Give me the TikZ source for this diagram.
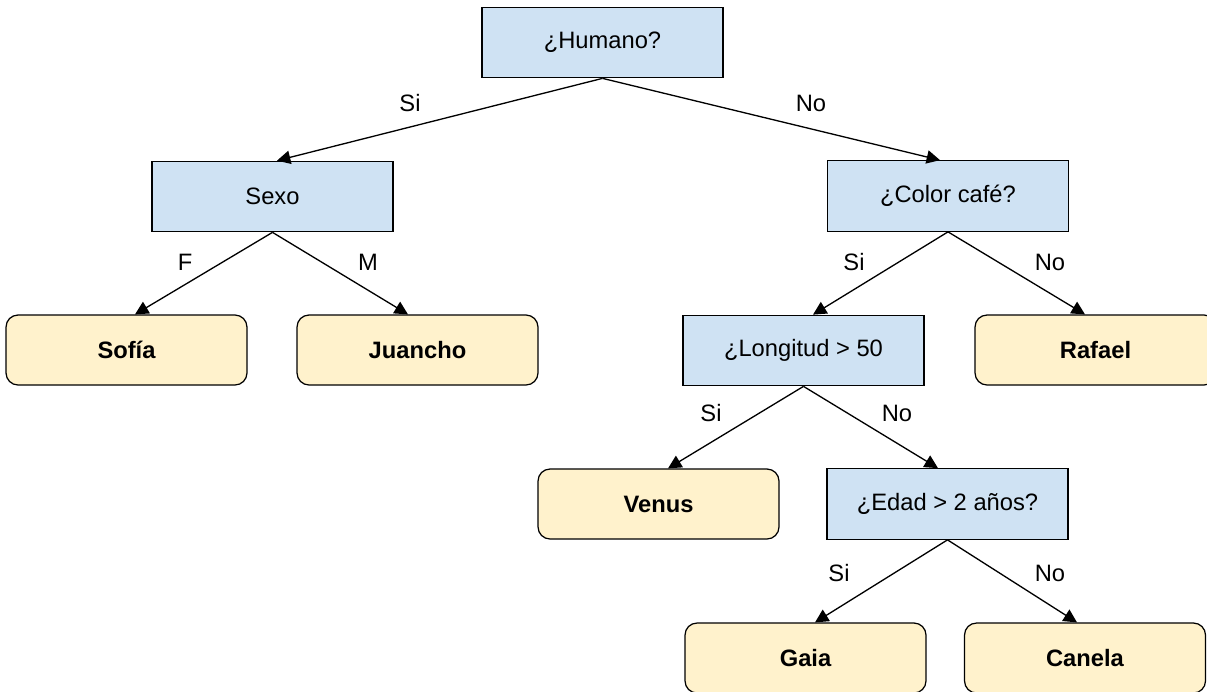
\documentclass[tikz,border=0pt]{standalone}
\usepackage{fontspec}
\setmainfont{Liberation Sans}
\usetikzlibrary{positioning,arrows.meta}
\definecolor{qblue}{HTML}{CFE2F3}
\definecolor{leafyellow}{HTML}{FFF2CC}
\tikzset{
 question/.style = {draw, fill=qblue, line width=0.7pt, minimum width=4.82cm, minimum height=1.41cm, inner sep=0pt, font=\fontsize{13.5}{15}\selectfont},
 leaf/.style = {draw, fill=leafyellow, line width=0.7pt, rounded corners=0.24cm, minimum width=4.82cm, minimum height=1.4cm, inner sep=0pt, font=\fontsize{13.5}{15}\selectfont\bfseries},
 lbl/.style = {font=\fontsize{13.5}{15}\selectfont, inner sep=0pt},
 branch/.style = {-{Triangle[length=7.6pt,width=7.6pt]}, line width=0.75pt},
}
\begin{document}
\begin{tikzpicture}[x=0.02cm, y=-0.02cm, auto]
 \useasboundingbox (0,0) rectangle (1207,691);
 % questions
 \node[question] (hum) at (602.5,42.5) {¿Humano?};
 \node[question] (sexo) at (272.5,196.5) {Sexo};
 \node[question] (color) at (948,196) {¿Color café?};
 \node[question] (longitud) at (803.5,350.5) {¿Longitud > 50};
 \node[question] (edad) at (947.5,504) {¿Edad > 2 años?};
 % answers
 \node[leaf] (sofia) at (126.5,350) {Sofía};
 \node[leaf] (juancho) at (417.5,350) {Juancho};
 \node[leaf] (rafael) at (1095.5,350) {Rafael};
 \node[leaf] (venus) at (658.5,504) {Venus};
 \node[leaf] (gaia) at (805.5,658) {Gaia};
 \node[leaf] (canela) at (1085,658) {Canela};
 % branch labels
 \node[lbl] (siHum) at (410,103) {Si};
 \node[lbl] (noHum) at (811,103) {No};
 \node[lbl] (fSexo) at (185,262) {F};
 \node[lbl] (mSexo) at (368,262) {M};
 \node[lbl] (siColor) at (854,262) {Si};
 \node[lbl] (noColor) at (1050,262) {No};
 \node[lbl] (siLong) at (711,413) {Si};
 \node[lbl] (noLong) at (897,413) {No};
 \node[lbl] (siEdad) at (839,573) {Si};
 \node[lbl] (noEdad) at (1050,573) {No};
 % branches
 \draw[branch] (hum.south) -- ([xshift=0.09cm]sexo.north);
 \draw[branch] (hum.south) -- ([xshift=-0.16cm]color.north);
 \draw[branch] (sexo.south) -- ([xshift=0.17cm]sofia.north);
 \draw[branch] (sexo.south) -- ([xshift=-0.19cm]juancho.north);
 \draw[branch] (color.south) -- ([xshift=0.19cm]longitud.north);
 \draw[branch] (color.south) -- ([xshift=-0.21cm]rafael.north);
 \draw[branch] (longitud.south) -- ([xshift=0.19cm]venus.north);
 \draw[branch] (longitud.south) -- ([xshift=-0.19cm]edad.north);
 \draw[branch] (edad.south) -- ([xshift=0.19cm]gaia.north);
 \draw[branch] (edad.south) -- ([xshift=-0.16cm]canela.north);
\end{tikzpicture}
\end{document}
